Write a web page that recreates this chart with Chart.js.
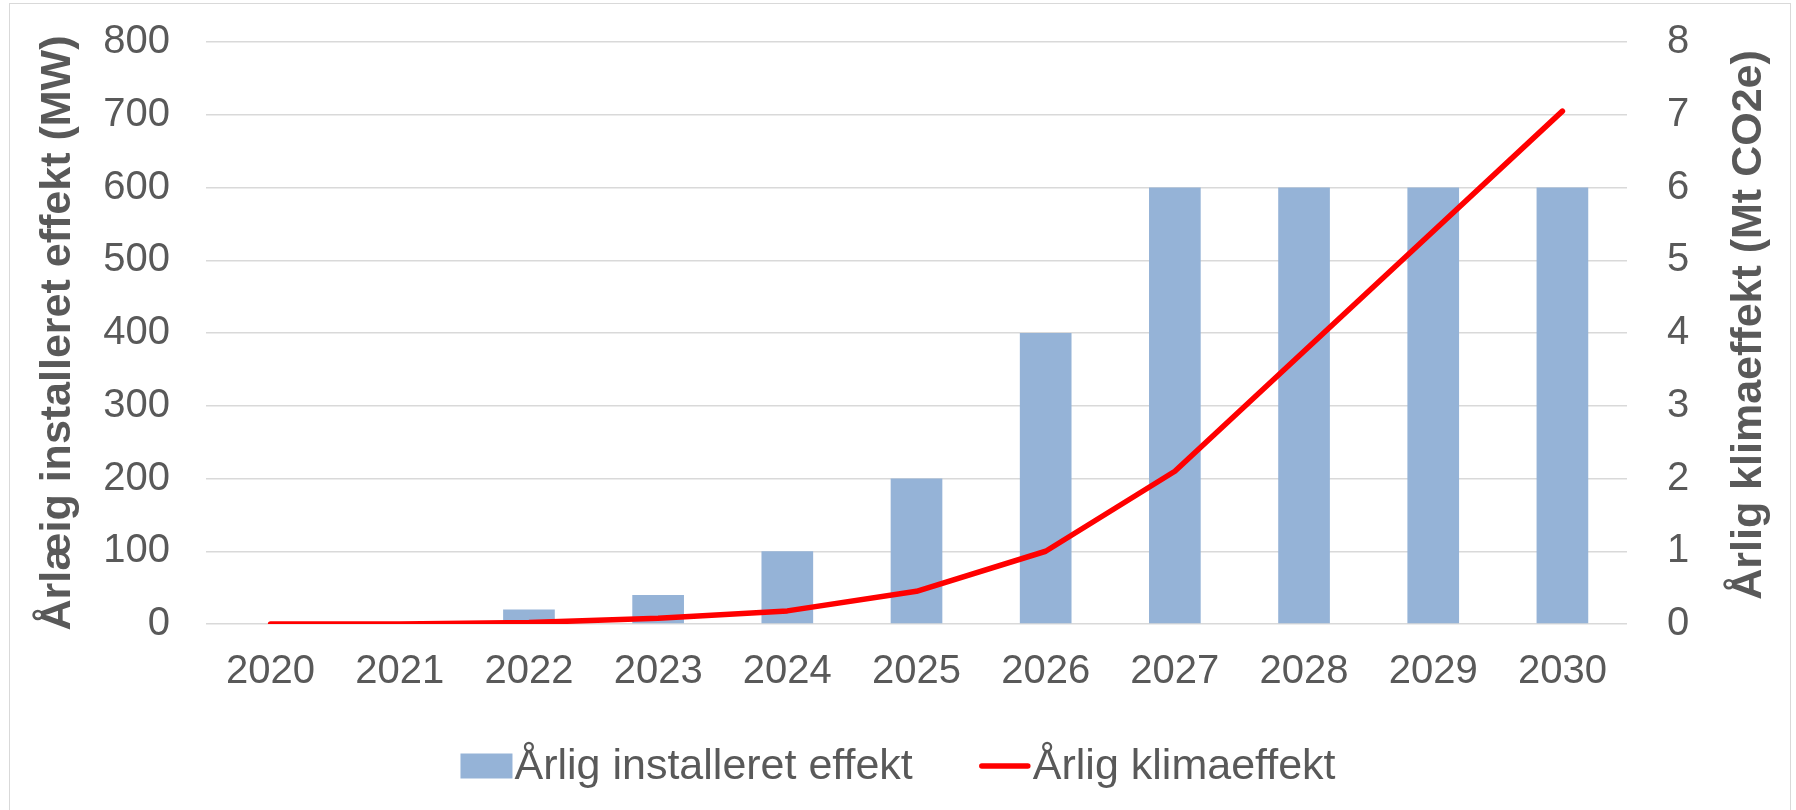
<!DOCTYPE html>
<html>
<head>
<meta charset="utf-8">
<script src="https://cdn.jsdelivr.net/npm/chart.js@4/dist/chart.umd.min.js"></script>
<style>
  html, body { margin: 0; padding: 0; background: #ffffff; }
  #wrap { position: relative; width: 1796px; height: 810px; overflow: hidden; }
  #frame { position: absolute; left: 9px; top: 3px; width: 1782px; height: 820px; border: 1px solid #D9D9D9; box-sizing: border-box; }
  canvas { position: absolute; left: 0; top: 0; }
</style>
</head>
<body>
<div id="wrap">
  <div id="frame"></div>
  <canvas id="c" width="1796" height="810"></canvas>
</div>
<script>
const years = ['2020', '2021', '2022', '2023', '2024', '2025', '2026', '2027', '2028', '2029', '2030'];
const installedMW = [0, 0, 20, 40, 100, 200, 400, 600, 600, 600, 600];
const climateMt = [0, 0, 0.02, 0.08, 0.18, 0.45, 1.0, 2.1, 3.75, 5.4, 7.05];
const seriesNames = ['Årlig installeret effekt', 'Årlig klimaeffekt'];
const leftTitle = 'Årlæig installeret effekt (MW)';
const rightTitle = 'Årlig klimaeffekt (Mt CO2e)';

const FONT = "'Liberation Sans', Arial, sans-serif";
const TXT = '#595959';

const extrasPlugin = {
  id: 'extras',
  afterDraw(chart) {
    const ctx = chart.ctx;
    const ds = chart.data.datasets;
    const area = chart.chartArea;
    ctx.save();
    // right axis title, reading bottom-to-top
    ctx.font = 'bold 43px ' + FONT;
    ctx.fillStyle = TXT;
    ctx.textAlign = 'center';
    ctx.textBaseline = 'middle';
    ctx.translate(1749, (area.top + area.bottom) / 2 - 8);
    ctx.rotate(-Math.PI / 2);
    ctx.fillText(rightTitle, 0, 0);
    ctx.restore();

    ctx.save();
    ctx.font = '43px ' + FONT;
    ctx.textBaseline = 'middle';
    ctx.textAlign = 'left';
    const boxW = 52, boxH = 25, gapText = 2, gapItem = 66;
    const widths = ds.map(d => boxW + gapText + ctx.measureText(d.label).width);
    const total = widths.reduce((a, b) => a + b, 0) + gapItem * (ds.length - 1);
    let x = chart.width / 2 - total / 2;
    const cy = 766;
    ds.forEach((d, i) => {
      if (d.type === 'line') {
        ctx.strokeStyle = d.borderColor;
        ctx.lineWidth = 5.5;
        ctx.lineCap = 'round';
        ctx.beginPath();
        ctx.moveTo(x + 3, cy);
        ctx.lineTo(x + boxW - 3, cy);
        ctx.stroke();
      } else {
        ctx.fillStyle = d.backgroundColor;
        ctx.fillRect(x, cy - boxH / 2, boxW, boxH);
      }
      ctx.fillStyle = TXT;
      ctx.fillText(d.label, x + boxW + gapText, cy + 1);
      x += widths[i] + gapItem;
    });
    ctx.restore();
  }
};

new Chart(document.getElementById('c'), {
  data: {
    labels: years,
    datasets: [
      {
        type: 'bar',
        label: seriesNames[0],
        data: installedMW,
        yAxisID: 'y',
        backgroundColor: '#95B3D7',
        borderWidth: 0,
        categoryPercentage: 1.0,
        barPercentage: 0.4,
        order: 1
      },
      {
        type: 'line',
        label: seriesNames[1],
        data: climateMt,
        yAxisID: 'y1',
        borderColor: '#FF0000',
        backgroundColor: '#FF0000',
        borderWidth: 5.5,
        borderCapStyle: 'round',
        borderJoinStyle: 'round',
        pointRadius: 0,
        tension: 0,
        order: 0
      }
    ]
  },
  options: {
    responsive: false,
    devicePixelRatio: 1,
    animation: false,
    layout: { padding: { top: 42, left: 0, right: 0, bottom: 0 } },
    plugins: {
      legend: { display: false },
      tooltip: { enabled: false }
    },
    scales: {
      x: {
        grid: { display: false, drawTicks: false },
        border: { display: false },
        ticks: { color: TXT, font: { family: FONT, size: 40 }, padding: 24, maxRotation: 0 },
        afterFit(s) { s.height = 186; s.paddingLeft = 0; s.paddingRight = 0; }
      },
      y: {
        position: 'left',
        min: 0, max: 800,
        ticks: { stepSize: 100, color: TXT, font: { family: FONT, size: 40 }, padding: 36 },
        grid: { color: '#D9D9D9', lineWidth: 1.5, drawTicks: false },
        border: { display: false },
        title: {
          display: true, text: leftTitle, color: TXT,
          font: { family: FONT, size: 43, weight: 'bold' },
          padding: { top: 32, bottom: 0 }
        },
        afterFit(s) { s.width = 206; s.paddingTop = 0; s.paddingBottom = 0; }
      },
      y1: {
        position: 'right',
        min: 0, max: 8,
        ticks: { stepSize: 1, color: TXT, font: { family: FONT, size: 40 }, padding: 40 },
        grid: { display: false, drawTicks: false },
        border: { display: false },
        afterFit(s) { s.width = 169; s.paddingTop = 0; s.paddingBottom = 0; }
      }
    }
  },
  plugins: [extrasPlugin]
});
</script>
</body>
</html>
